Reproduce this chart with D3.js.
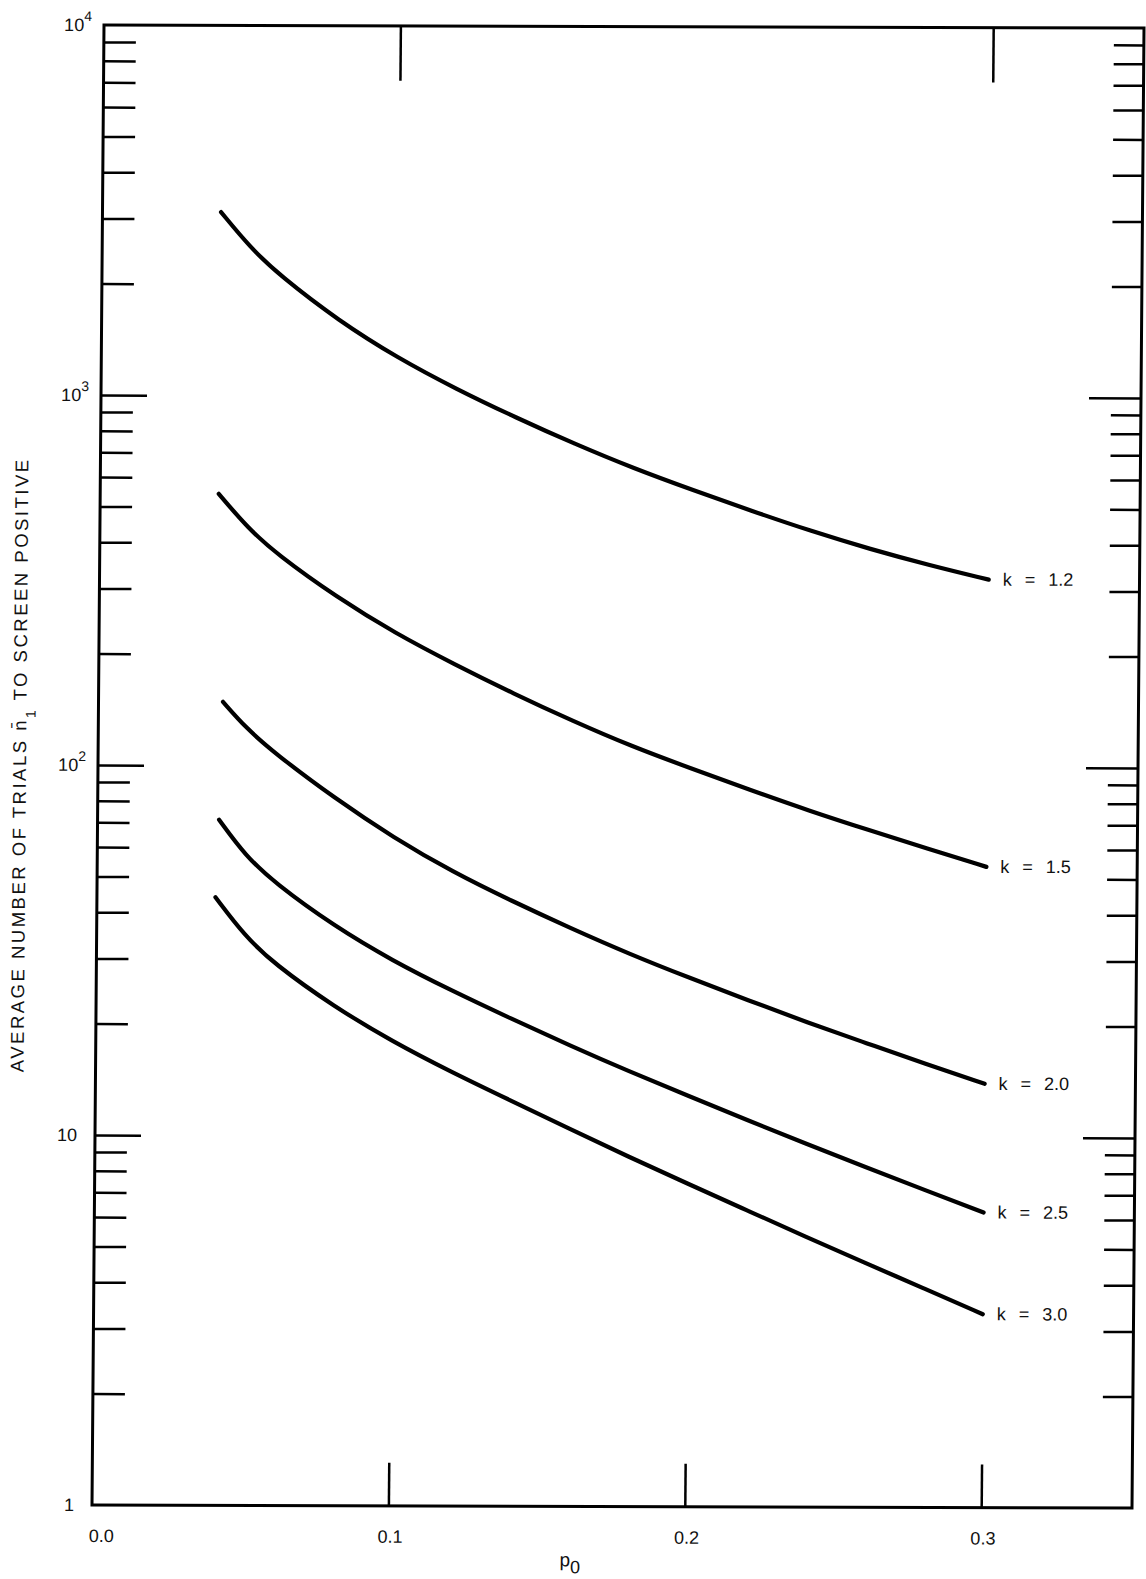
<!DOCTYPE html>
<meta charset="utf-8">
<style>
body { margin: 0; background: #fff; }
svg { display: block; }
text { font-family: "Liberation Sans", Arial, sans-serif; fill: #111; }
.frame { fill: none; stroke: #000; stroke-width: 3; }
.tick line { stroke: #000; stroke-width: 2.5; }
.domain { display: none; }
.curve { fill: none; stroke: #000; stroke-width: 4.2; stroke-linecap: round; }
</style>
<body>
<svg width="1146" height="1579"></svg>
<script src="https://d3js.org/d3.v7.min.js"></script>
<script>

// p0 values along each curve (first point is replaced by the curve's own start)
var pValues = [0.04, 0.05, 0.06, 0.08, 0.10, 0.12, 0.14, 0.16, 0.18, 0.20, 0.22, 0.24, 0.26, 0.28, 0.30];
var pStart = [0.040, 0.040, 0.042, 0.041, 0.040];

// average number of trials for each k
var k12 = [3128, 2507, 2110, 1594, 1266, 1043, 875.7, 743.4, 639, 558.9, 491.2, 434, 388.4, 351.8, 322];
var k15 = [541.8, 437.2, 371.4, 285.7, 228.0, 188.3, 157.1, 132.7, 113.4, 99.0, 86.7, 76.2, 67.7, 60.4, 53.9];
var k20 = [148.5, 125.8, 107.3, 81.6, 63.9, 51.7, 43.2, 36.5, 31.1, 26.9, 23.4, 20.4, 17.96, 15.8, 13.97];
var k25 = [71.3, 57.0, 48.1, 36.9, 29.7, 24.7, 20.8, 17.6, 15.0, 12.9, 11.1, 9.58, 8.31, 7.21, 6.27];
var k30 = [44.0, 34.6, 29.1, 22.4, 18.0, 14.9, 12.5, 10.5, 8.82, 7.47, 6.34, 5.38, 4.58, 3.91, 3.33];

var kLabels = ["k = 1.2", "k = 1.5", "k = 2.0", "k = 2.5", "k = 3.0"];
var xTickValues = [0.0, 0.1, 0.2, 0.3];
var xTickLabels = ["0.0", "0.1", "0.2", "0.3"];
var topTickValues = [0.1, 0.3];
var yDecades = [1, 10, 100, 1000, 10000];

var svg = d3.select("svg"),
    width = 1040,
    height = 1480;

var x = d3.scaleLinear().domain([0, width / 2964]).range([0, width]),
    y = d3.scaleLog().domain([1, 10000]).range([height, 0]);

// the scanned sheet is slightly skewed; map the plot box onto it
var g = svg.append("g")
    .attr("transform", "matrix(1,0.002885,-0.008108,1,104,25)");

// minor ticks (2..9 of each decade), left and right, pointing inward
var minor = y.ticks().filter(function(d) { return yDecades.indexOf(d) < 0; });

g.append("g")
    .call(d3.axisLeft(y).tickValues(minor).tickSize(-32).tickFormat(""));
g.append("g")
    .call(d3.axisLeft(y).tickValues([10, 100, 1000]).tickSize(-46).tickFormat(""));
g.append("g")
    .attr("transform", "translate(" + width + ",0)")
    .call(d3.axisRight(y).tickValues(minor).tickSize(-30).tickFormat(""));
g.append("g")
    .attr("transform", "translate(" + width + ",0)")
    .call(d3.axisRight(y).tickValues([10, 100, 1000]).tickSize(-52).tickFormat(""));

// x ticks: bottom and top, inward
g.append("g")
    .attr("transform", "translate(0," + height + ")")
    .call(d3.axisBottom(x).tickValues(xTickValues.slice(1)).tickSize(-43).tickFormat(""));
g.append("g")
    .call(d3.axisTop(x).tickValues(topTickValues).tickSize(-55).tickFormat(""));

// frame
g.append("rect")
    .attr("class", "frame")
    .attr("width", width)
    .attr("height", height);

// y labels with superscript exponent
var ylab = g.selectAll(".ylab")
    .data(yDecades)
  .enter().append("text")
    .attr("class", "ylab")
    .attr("x", function(d) { return d < 100 ? -18 : -12; })
    .attr("y", function(d) { return y(d) + 6; })
    .attr("text-anchor", "end")
    .style("font-size", "18px");

ylab.each(function(d) {
  var e = Math.round(Math.log10(d)), t = d3.select(this);
  if (e < 2) { t.text(String(d)); return; }
  t.append("tspan").text("10");
  t.append("tspan").attr("dy", -10).style("font-size", "14px").text(e);
});

// x labels
g.selectAll(".xlab")
    .data(xTickValues)
  .enter().append("text")
    .attr("x", function(d) { return d === 0 ? x(d) - 3 : x(d) + 2; })
    .attr("y", height + 37)
    .attr("text-anchor", function(d) { return d === 0 ? "start" : "middle"; })
    .style("font-size", "18px")
    .text(function(d, i) { return xTickLabels[i]; });

// axis titles
var xt = g.append("text")
    .attr("x", x(0.16) + 4)
    .attr("y", height + 60)
    .attr("text-anchor", "middle")
    .style("font-size", "19px");
xt.append("tspan").text("p");
xt.append("tspan").attr("dy", 7).style("font-size", "18px").text("0");

var yt = g.append("text")
    .attr("transform", "translate(-72," + y(100) + ") rotate(-90)")
    .attr("text-anchor", "middle")
    .style("font-size", "18.5px")
    .style("letter-spacing", "2.5px");
yt.append("tspan").text("AVERAGE NUMBER OF TRIALS n\u0304");
yt.append("tspan").attr("dy", 9).style("font-size", "14px").text("1");
yt.append("tspan").attr("dy", -9).text("  TO SCREEN POSITIVE");

// curves
var series = [k12, k15, k20, k25, k30];

g.selectAll(".curve")
    .data(series)
  .enter().append("path")
    .attr("class", "curve")
    .attr("d", function(s, j) {
      return d3.line()
          .x(function(d, i) { return x(i === 0 ? pStart[j] : pValues[i]); })
          .y(function(d) { return y(d); })
          .curve(d3.curveBasis)(s);
    });

g.selectAll(".klab")
    .data(series)
  .enter().append("text")
    .attr("x", x(0.3) + 14)
    .attr("y", function(d) { return y(d[d.length - 1]) + 6; })
    .style("font-size", "18px")
    .style("word-spacing", "8px")
    .text(function(d, i) { return kLabels[i]; });

</script>
</body>
